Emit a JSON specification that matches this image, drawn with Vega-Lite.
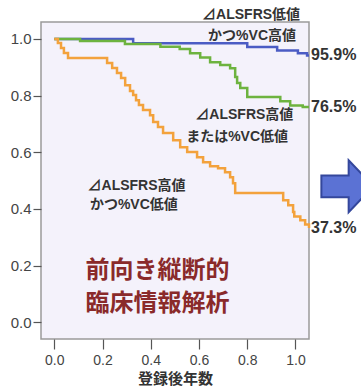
{
  "$schema": "https://vega.github.io/schema/vega-lite/v6.json",
  "width": 268,
  "height": 317,
  "autosize": {"type": "none"},
  "padding": {"left": 41, "top": 22, "right": 52, "bottom": 50},
  "background": "white",
  "config": {
    "view": {"fill": "#f4f2fb", "stroke": "#9a9a9a", "strokeWidth": 1.5},
    "font": "Liberation Sans, Noto Sans CJK JP, sans-serif"
  },
  "datasets": {
    "curves": [
      {"group": "low_high", "t": 0, "s": 1.0},
      {"group": "low_high", "t": 0.327, "s": 0.985},
      {"group": "low_high", "t": 0.8, "s": 0.972},
      {"group": "low_high", "t": 0.924, "s": 0.959},
      {"group": "low_high", "t": 1.01, "s": 0.95},
      {"group": "low_high", "t": 1.048, "s": 0.942},
      {"group": "low_high", "t": 1.056, "s": 0.942},

      {"group": "high_or_low", "t": 0, "s": 1.0},
      {"group": "high_or_low", "t": 0.107, "s": 0.993},
      {"group": "high_or_low", "t": 0.293, "s": 0.982},
      {"group": "high_or_low", "t": 0.44, "s": 0.973},
      {"group": "high_or_low", "t": 0.52, "s": 0.965},
      {"group": "high_or_low", "t": 0.563, "s": 0.95},
      {"group": "high_or_low", "t": 0.605, "s": 0.935},
      {"group": "high_or_low", "t": 0.646, "s": 0.918},
      {"group": "high_or_low", "t": 0.688, "s": 0.908},
      {"group": "high_or_low", "t": 0.729, "s": 0.897},
      {"group": "high_or_low", "t": 0.75, "s": 0.866},
      {"group": "high_or_low", "t": 0.758, "s": 0.845},
      {"group": "high_or_low", "t": 0.771, "s": 0.827},
      {"group": "high_or_low", "t": 0.8, "s": 0.795},
      {"group": "high_or_low", "t": 0.937, "s": 0.78},
      {"group": "high_or_low", "t": 0.978, "s": 0.765},
      {"group": "high_or_low", "t": 1.03, "s": 0.76},
      {"group": "high_or_low", "t": 1.056, "s": 0.76},

      {"group": "high_low", "t": 0, "s": 1.0},
      {"group": "high_low", "t": 0.015, "s": 0.986},
      {"group": "high_low", "t": 0.028, "s": 0.968},
      {"group": "high_low", "t": 0.04, "s": 0.951},
      {"group": "high_low", "t": 0.057, "s": 0.933},
      {"group": "high_low", "t": 0.219, "s": 0.915},
      {"group": "high_low", "t": 0.24, "s": 0.898},
      {"group": "high_low", "t": 0.26, "s": 0.88},
      {"group": "high_low", "t": 0.277, "s": 0.862},
      {"group": "high_low", "t": 0.294, "s": 0.837},
      {"group": "high_low", "t": 0.314, "s": 0.816},
      {"group": "high_low", "t": 0.327, "s": 0.802},
      {"group": "high_low", "t": 0.339, "s": 0.784},
      {"group": "high_low", "t": 0.351, "s": 0.767},
      {"group": "high_low", "t": 0.368, "s": 0.749},
      {"group": "high_low", "t": 0.397, "s": 0.731},
      {"group": "high_low", "t": 0.41, "s": 0.707},
      {"group": "high_low", "t": 0.43, "s": 0.689},
      {"group": "high_low", "t": 0.451, "s": 0.668},
      {"group": "high_low", "t": 0.493, "s": 0.643},
      {"group": "high_low", "t": 0.522, "s": 0.618},
      {"group": "high_low", "t": 0.551, "s": 0.601},
      {"group": "high_low", "t": 0.592, "s": 0.583},
      {"group": "high_low", "t": 0.617, "s": 0.565},
      {"group": "high_low", "t": 0.646, "s": 0.551},
      {"group": "high_low", "t": 0.679, "s": 0.544},
      {"group": "high_low", "t": 0.708, "s": 0.53},
      {"group": "high_low", "t": 0.729, "s": 0.512},
      {"group": "high_low", "t": 0.741, "s": 0.491},
      {"group": "high_low", "t": 0.75, "s": 0.456},
      {"group": "high_low", "t": 0.949, "s": 0.431},
      {"group": "high_low", "t": 0.97, "s": 0.413},
      {"group": "high_low", "t": 0.99, "s": 0.389},
      {"group": "high_low", "t": 0.995, "s": 0.373},
      {"group": "high_low", "t": 1.02, "s": 0.36},
      {"group": "high_low", "t": 1.04, "s": 0.345},
      {"group": "high_low", "t": 1.056, "s": 0.333}
    ],
    "endLabels": [
      {"group": "low_high", "t": 1.056, "s": 0.942, "label": "95.9%"},
      {"group": "high_or_low", "t": 1.056, "s": 0.76, "label": "76.5%"},
      {"group": "high_low", "t": 1.056, "s": 0.333, "label": "37.3%"}
    ],
    "notes": [
      {"t": 0.816, "s": 1.085, "text": "⊿ALSFRS低値"},
      {"t": 0.82, "s": 1.011, "text": "かつ%VC高値"},
      {"t": 0.788, "s": 0.731, "text": "⊿ALSFRS高値"},
      {"t": 0.758, "s": 0.654, "text": "または%VC低値"},
      {"t": 0.341, "s": 0.481, "text": "⊿ALSFRS高値"},
      {"t": 0.33, "s": 0.413, "text": "かつ%VC低値"}
    ],
    "headline": [
      {"t": 0.428, "s": 0.181, "text": "前向き縦断的"},
      {"t": 0.428, "s": 0.066, "text": "臨床情報解析"}
    ],
    "arrow": [
      {"t": 1.215, "s": 0.48}
    ]
  },
  "layer": [
    {
      "data": {"name": "curves"},
      "mark": {"type": "line", "interpolate": "step-after", "strokeWidth": 2.5},
      "encoding": {
        "x": {
          "field": "t", "type": "quantitative",
          "scale": {"domain": [-0.055, 1.056], "nice": false, "zero": false},
          "axis": {
            "values": [0, 0.2, 0.4, 0.6, 0.8, 1.0], "format": ".1f",
            "domain": false, "grid": false, "tickSize": 10, "tickColor": "#555", "tickWidth": 1.2,
            "labelFontSize": 14, "labelColor": "#444", "labelPadding": 4,
            "title": "登録後年数", "titleFontSize": 15, "titleFontWeight": "bold",
            "titleColor": "#333", "titlePadding": 4,
            "titleFont": "Noto Sans CJK JP"
          }
        },
        "y": {
          "field": "s", "type": "quantitative",
          "scale": {"domain": [-0.059, 1.06], "nice": false, "zero": false},
          "axis": {
            "values": [0, 0.2, 0.4, 0.6, 0.8, 1.0], "format": ".1f",
            "domain": false, "grid": false, "tickSize": 8, "tickColor": "#555", "tickWidth": 1.2,
            "labelFontSize": 15, "labelColor": "#444", "labelPadding": 2,
            "title": null
          }
        },
        "color": {
          "field": "group", "type": "nominal",
          "scale": {"domain": ["low_high", "high_or_low", "high_low"], "range": ["#4b5cc4", "#6db33f", "#f3a23c"]},
          "legend": null
        }
      }
    },
    {
      "data": {"name": "endLabels"},
      "mark": {"type": "text", "align": "left", "baseline": "middle", "dx": 2, "fontSize": 16, "fontWeight": "bold", "color": "#333"},
      "encoding": {
        "x": {"field": "t", "type": "quantitative"},
        "y": {"field": "s", "type": "quantitative"},
        "text": {"field": "label"}
      }
    },
    {
      "data": {"name": "notes"},
      "mark": {"type": "text", "align": "center", "baseline": "middle", "fontSize": 14, "fontWeight": "bold", "color": "#333"},
      "encoding": {
        "x": {"field": "t", "type": "quantitative"},
        "y": {"field": "s", "type": "quantitative"},
        "text": {"field": "text"}
      }
    },
    {
      "data": {"name": "headline"},
      "mark": {"type": "text", "align": "center", "baseline": "middle", "fontSize": 24, "fontWeight": "bold", "font": "Noto Sans CJK JP", "color": "#8a2a2a"},
      "encoding": {
        "x": {"field": "t", "type": "quantitative"},
        "y": {"field": "s", "type": "quantitative"},
        "text": {"field": "text"}
      }
    },
    {
      "data": {"name": "arrow"},
      "mark": {
        "type": "point", "filled": true, "clip": false, "size": 2700,
        "shape": "M -1 -0.42 L 0.05 -0.42 L 0.05 -1 L 1 0 L 0.05 1 L 0.05 0.42 L -1 0.42 Z",
        "fill": "#5b72d4", "stroke": "#34479c", "strokeWidth": 2, "opacity": 1
      },
      "encoding": {
        "x": {"field": "t", "type": "quantitative"},
        "y": {"field": "s", "type": "quantitative"}
      }
    }
  ]
}
